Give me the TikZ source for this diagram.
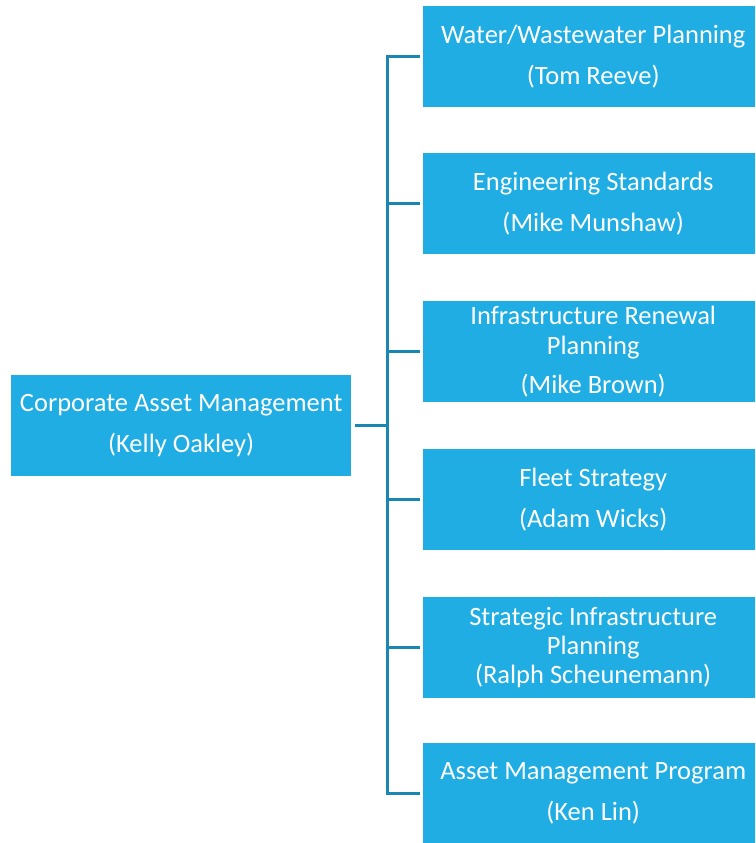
\documentclass[tikz,border=0pt]{standalone}
\usepackage{fontspec}
\setmainfont{Carlito}
\definecolor{boxfill}{HTML}{1FADE3}
\definecolor{linec}{HTML}{1A86B3}
\begin{document}
\begin{tikzpicture}[x=1pt,y=-1pt,
  box/.style={fill=boxfill, draw=none, minimum width=340pt, minimum height=101pt,
    inner sep=0pt, text=white, align=center, anchor=north west,
    font=\fontsize{26.5}{41}\selectfont},
  tight/.style={font=\fontsize{26.5}{30}\selectfont},
  tighter/.style={font=\fontsize{26.5}{29}\selectfont},
  conn/.style={draw=linec, line width=3pt, line join=miter}]
\clip (0,0) rectangle (755,843);
\fill[white] (0,0) rectangle (755,843);
\node[box] (ca) at (11,375) {Corporate Asset Management\\(Kelly Oakley)};
\node[box] (b1) at (423,6)   {Water/Wastewater Planning\\(Tom Reeve)};
\node[box] (b2) at (423,153) {Engineering Standards\\(Mike Munshaw)};
\node[box,tight] (b3) at (423,301) {Infrastructure Renewal\\Planning\\[9pt](Mike Brown)};
\node[box] (b4) at (423,449) {Fleet Strategy\\(Adam Wicks)};
\node[box,tighter] (b5) at (423,597) {Strategic Infrastructure\\Planning\\(Ralph Scheunemann)};
\node[box] (b6) at (423,743) {Asset Management Program\\(Ken Lin)};
\coordinate (bus) at (387,0);
\draw[conn] ([xshift=4pt]ca.east) -- (ca.east -| bus);
\draw[conn] ([xshift=-3pt]b1.west) -- (b1.west -| bus) -- (b6.west -| bus) -- ([xshift=-3pt]b6.west);
\foreach \b in {b2,b3,b4,b5}
  \draw[conn] (\b.west -| bus) -- ([xshift=-3pt]\b.west);
\end{tikzpicture}
\end{document}
